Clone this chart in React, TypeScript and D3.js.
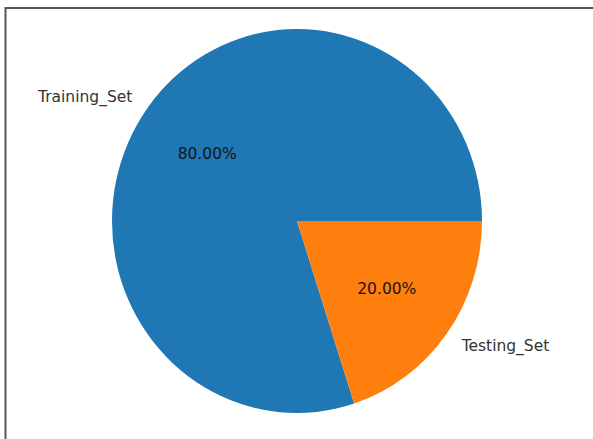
import React from "react";
import * as d3 from "d3";

const labels = ["Training_Set", "Testing_Set"];
const values = [80, 20];
const colors = ["#1f77b4", "#ff7f0e"];

const W = 593;
const H = 439;
const CX = 297;
const CY = 221;
const RX = 185;
const RY = 192;

export default function App() {
  const pie = d3
    .pie<number>()
    .sort(null)
    .startAngle(Math.PI / 2)
    .endAngle(Math.PI / 2 - 2 * Math.PI);
  const arcs = pie(values);
  const arc = d3.arc<d3.PieArcDatum<number>>().innerRadius(0).outerRadius(RX);
  const total = d3.sum(values);
  const sy = RY / RX;
  const fs = 15.5;

  return (
    <svg
      width={W}
      height={H}
      style={{ position: "absolute", left: 0, top: 0, background: "#fff" }}
      fontFamily="DejaVu Sans, sans-serif"
    >
      <rect x={0} y={0} width={W} height={H} fill="#fff" />
      <line x1={5.5} y1={7} x2={5.5} y2={H} stroke="#555" strokeWidth={2} />
      <line x1={5} y1={8} x2={W} y2={8} stroke="#555" strokeWidth={2} />
      <g transform={`translate(${CX},${CY}) scale(1,${sy})`}>
        {arcs.map((a, i) => (
          <path key={i} d={arc(a) || ""} fill={colors[i]} />
        ))}
      </g>
      {arcs.map((a, i) => {
        const mid = (a.startAngle + a.endAngle) / 2;
        const ux = Math.sin(mid);
        const uy = -Math.cos(mid);
        const lx = CX + ux * RX * 1.1;
        const ly = CY + uy * RY * 1.1;
        const px = CX + ux * RX * 0.6;
        const py = CY + uy * RY * 0.6;
        const pct = ((values[i] / total) * 100).toFixed(2) + "%";
        return (
          <g key={i}>
            <text
              x={lx}
              y={ly}
              dy="0.36em"
              fontSize={fs}
              fill="#333"
              textAnchor={ux < 0 ? "end" : "start"}
            >
              {labels[i]}
            </text>
            <text
              x={px}
              y={py}
              dy="0.36em"
              fontSize={fs}
              fill="#151515"
              textAnchor="middle"
            >
              {pct}
            </text>
          </g>
        );
      })}
    </svg>
  );
}
